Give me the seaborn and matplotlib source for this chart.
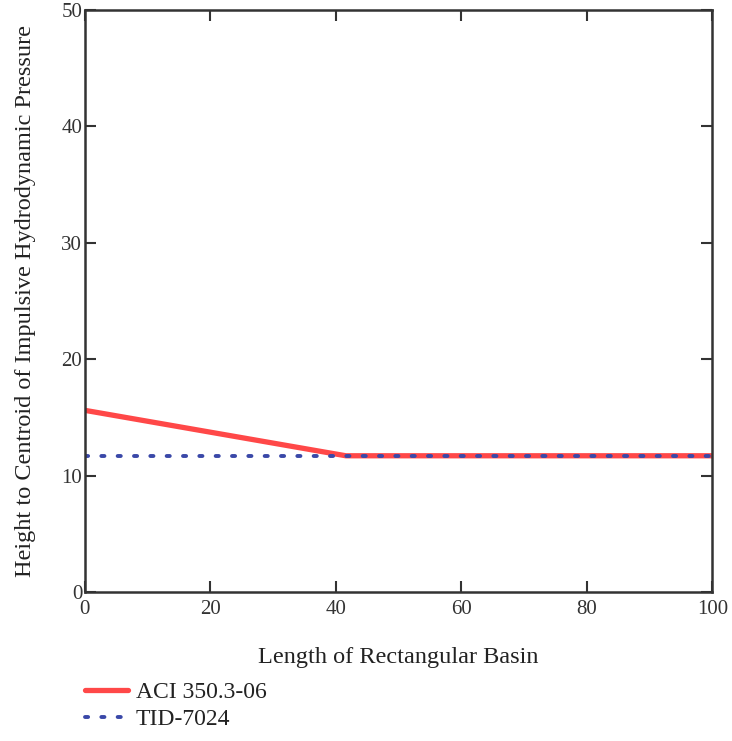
import matplotlib
matplotlib.use("Agg")
import matplotlib.pyplot as plt
import seaborn as sns
import pandas as pd

# Data
aci_x = [0, 41.6, 100]
aci_y = [15.6, 11.7, 11.7]
tid_x = [0, 100]
tid_y = [11.7, 11.7]
x_ticks = [0, 20, 40, 60, 80, 100]
y_ticks = [0, 10, 20, 30, 40, 50]

sns.set_theme(style="ticks")
plt.rcParams['font.family'] = ['Liberation Serif', 'DejaVu Serif']

fig = plt.figure(figsize=(7.32, 7.41), dpi=100)
ax = fig.add_axes([0.116, 0.201, 0.857, 0.786])

df_aci = pd.DataFrame({"x": aci_x, "y": aci_y})
df_tid = pd.DataFrame({"x": tid_x, "y": tid_y})

sns.lineplot(data=df_aci, x="x", y="y", ax=ax, color="#ff4848", linewidth=3.8,
             label="ACI 350.3-06")
sns.lineplot(data=df_tid, x="x", y="y", ax=ax, color="#3a48a8", linewidth=2.8,
             linestyle=(0, (0.8, 3.4)), label="TID-7024")
for l in ax.lines[1:]:
    l.set_dash_capstyle("round")

ax.set_xlim(0, 100)
ax.set_ylim(0, 50)
ax.set_xticks(x_ticks)
ax.set_yticks(y_ticks)
ax.tick_params(direction="in", length=8, width=1.5, top=True, right=True,
               labelsize=15, colors="#333333", labelcolor="#333333")
ax.tick_params(axis="x", pad=6)
ax.tick_params(axis="y", pad=2)
for s in ax.spines.values():
    s.set_color("#333333")
    s.set_linewidth(1.8)

ax.set_xlabel("Length of Rectangular Basin", fontsize=17.5, color="#222222", labelpad=20)
ax.set_ylabel("Height to Centroid of Impulsive Hydrodynamic Pressure", fontsize=17.5,
              color="#222222", labelpad=18)

handles, labels = ax.get_legend_handles_labels()
ax.get_legend().remove()
leg = fig.legend(handles, labels, loc="lower left", bbox_to_anchor=(0.097, -0.004),
                 frameon=False, fontsize=17, handlelength=1.8, handletextpad=0.35,
                 labelspacing=0.22, borderaxespad=0.2)
for t in leg.get_texts():
    t.set_color("#222222")

fig.savefig("out.png", dpi=100)
